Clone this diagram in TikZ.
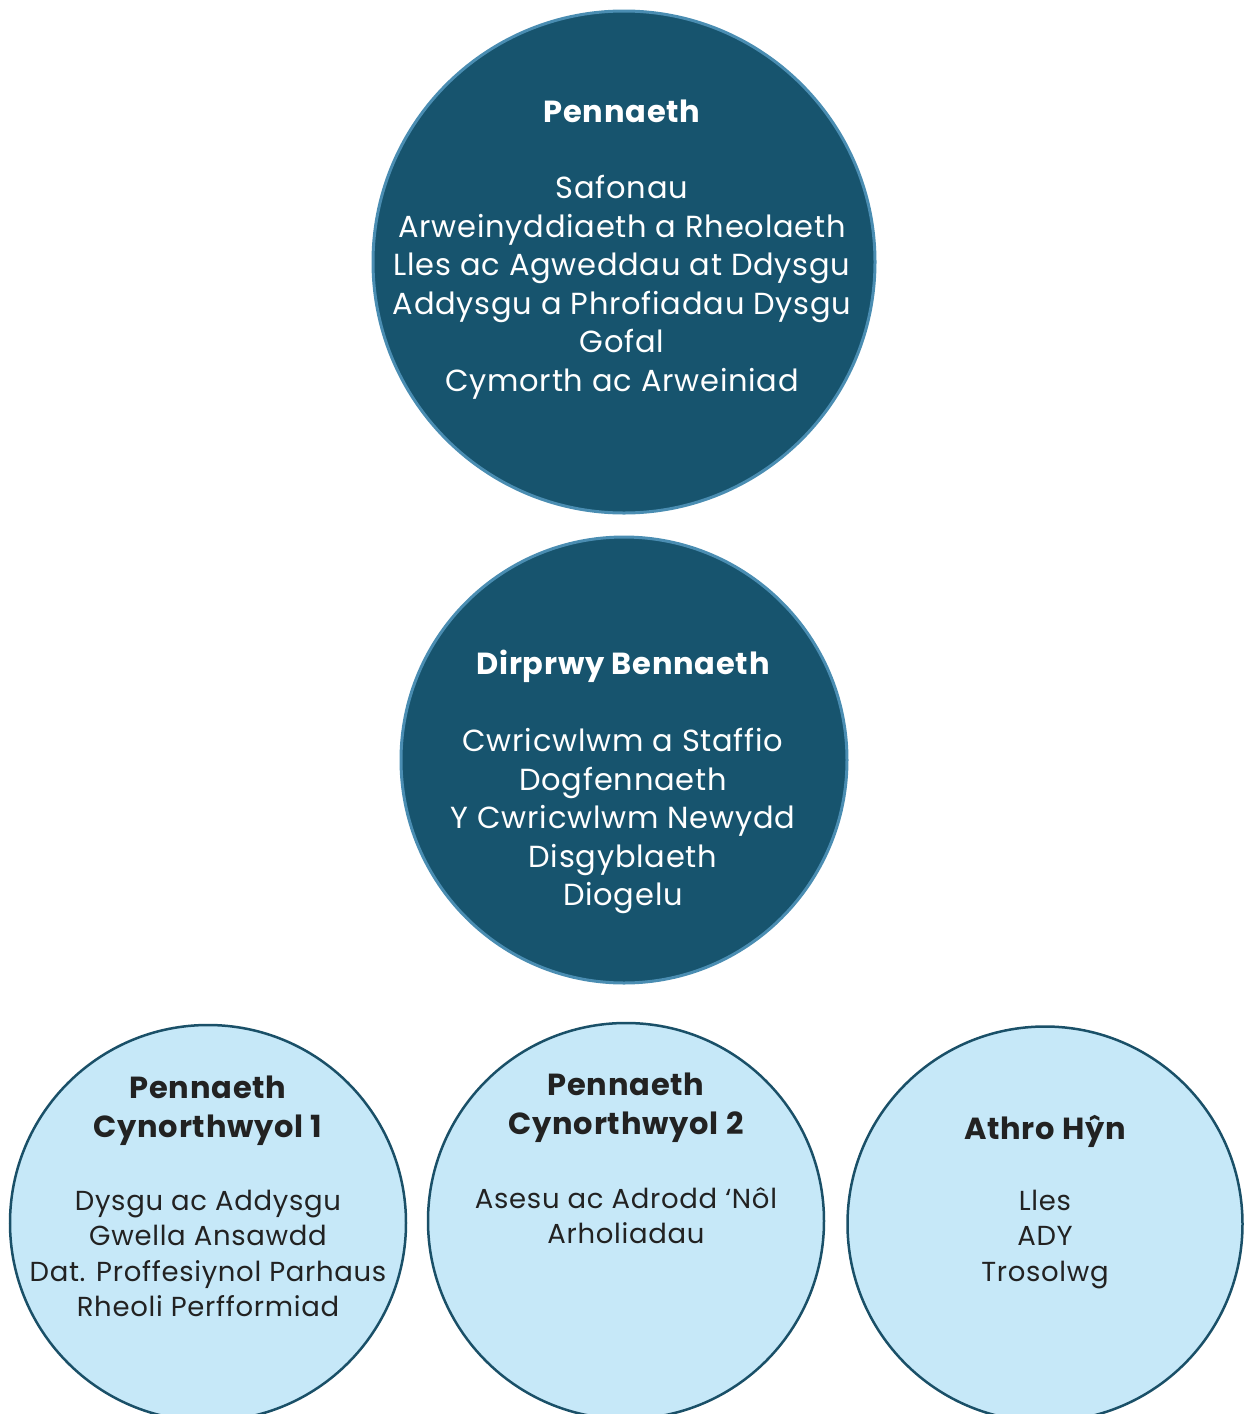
\documentclass[tikz,border=0pt]{standalone}
\usepackage{fontspec}
\setmainfont{Poppins}[LetterSpace=2.5]
\definecolor{darkfill}{HTML}{17546E}
\definecolor{darkedge}{HTML}{4A8DB2}
\definecolor{lightfill}{HTML}{C6E8F8}
\definecolor{lightedge}{HTML}{1A5068}
\definecolor{txtdark}{HTML}{222222}
\tikzset{
  bigcirc/.style={circle, fill=darkfill, draw=darkedge, line width=3pt, inner sep=0pt},
  smallcirc/.style={circle, fill=lightfill, draw=lightedge, line width=2.5pt, inner sep=0pt},
  txtlight/.style={text=white, align=center, inner sep=0pt, anchor=base, font=\fontsize{30.5}{38.5}\selectfont},
  txtbot/.style={text=txtdark, align=center, inner sep=0pt, anchor=base, font=\fontsize{27.5}{35.3}\selectfont},
  titbot/.style={text=txtdark, align=center, inner sep=0pt, anchor=base, font=\bfseries\fontsize{30.5}{39}\selectfont},
}
\begin{document}
\begin{tikzpicture}[x=1pt,y=-1pt]
\useasboundingbox (0,0) rectangle (1244,1414);
\clip (0,0) rectangle (1244,1414);
\node[bigcirc, minimum size=502pt] (c1) at (624,262) {};
\node[bigcirc, minimum size=446pt] (c2) at (624,760) {};
\node[smallcirc, minimum size=396pt] (c3) at (208,1223) {};
\node[smallcirc, minimum size=396pt] (c4) at (626,1221) {};
\node[smallcirc, minimum size=395pt] (c5) at (1045,1224) {};
% top
\node[txtlight, font=\bfseries\fontsize{30.5}{38.5}\selectfont] (t1) at (622,122) {Pennaeth};
\node[txtlight, anchor=north] (b1) at (622,175) {Safonau\\Arweinyddiaeth a Rheolaeth\\Lles ac Agweddau at Ddysgu\\Addysgu a Phrofiadau Dysgu\\Gofal\\Cymorth ac Arweiniad};
% middle
\node[txtlight, font=\bfseries\fontsize{30.5}{38.5}\selectfont] (t2) at (623,674) {Dirprwy Bennaeth};
\node[txtlight, anchor=north] (b2) at (623,728) {Cwricwlwm a Staffio\\Dogfennaeth\\Y Cwricwlwm Newydd\\Disgyblaeth\\Diogelu};
% bottom left
\node[titbot, anchor=north] (t3) at (208,1076) {Pennaeth\\Cynorthwyol 1};
\node[txtbot, anchor=north] (b3) at (208,1190) {Dysgu ac Addysgu\\Gwella Ansawdd\\Dat. Proffesiynol Parhaus\\Rheoli Perfformiad};
% bottom middle
\node[titbot, anchor=north] (t4) at (626,1073) {Pennaeth\\Cynorthwyol 2};
\node[txtbot, anchor=north] (b4) at (626,1187) {Asesu ac Adrodd ‘Nôl\\Arholiadau};
% bottom right
\node[titbot, anchor=north] (t5) at (1045,1115) {Athro Hŷn};
\node[txtbot, anchor=north] (b5) at (1045,1190) {Lles\\ADY\\Trosolwg};
\end{tikzpicture}
\end{document}
